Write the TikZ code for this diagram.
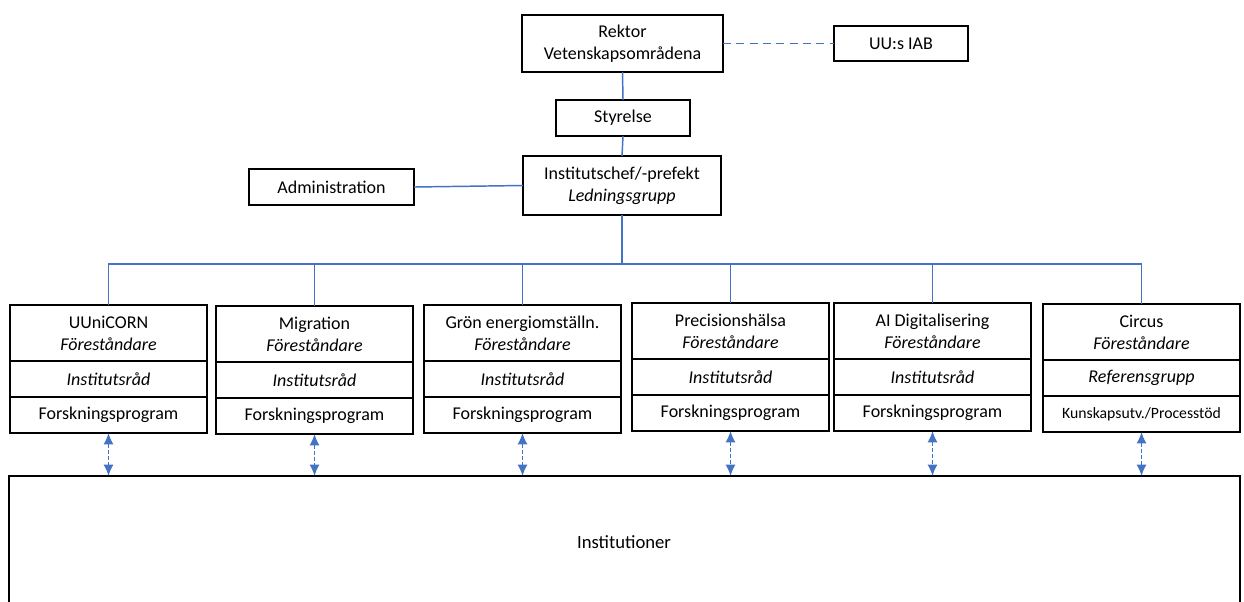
\documentclass[tikz,border=0pt]{standalone}
\usepackage{fontspec}
\setmainfont{Carlito}
\usetikzlibrary{arrows.meta}
\definecolor{lineblue}{RGB}{68,114,196}
\tikzset{
  box/.style={draw=black, line width=1.1pt, inner sep=0pt, outer sep=0pt, align=center, font=\fontsize{13.5}{16.5}\selectfont},
  conn/.style={draw=lineblue, line width=1.1pt},
  dconn/.style={draw=lineblue, line width=1.3pt, dash pattern=on 6pt off 4pt},
  link/.style={draw=lineblue, line width=1.1pt, dash pattern=on 3pt off 1.5pt, {Latex[length=8.5pt,width=7.5pt]}-{Latex[length=8.5pt,width=7.5pt]}},
  tophead/.style={box, minimum width=147.75pt, minimum height=42pt, anchor=north},
  midrow/.style={box, minimum width=147.75pt, minimum height=27pt, anchor=north},
}
\newcommand\orgcol[6]{%
  \node[tophead] (t#1) at (#2,#3) {#4\\\textit{Föreståndare}};
  \node[midrow] (m#1) at (t#1.south) {#5};
  \node[midrow] (b#1) at (m#1.south) {#6};
}
\begin{document}
\begin{tikzpicture}[x=0.75pt,y=-0.75pt]
\useasboundingbox (0,0) rectangle (1244,601);
\clip (0,0) rectangle (1244,601);
\fill[white] (0,0) rectangle (1244,601);

\node[box, minimum width=150.75pt, minimum height=42.75pt] (rek) at (622.5,43.5) {Rektor\\Vetenskapsområdena};
\node[box, minimum width=100.5pt, minimum height=26.25pt] (iab) at (901,43.5) {UU:s IAB};
\node[box, minimum width=100.5pt, minimum height=27pt] (sty) at (623,118) {Styrelse};
\node[box, minimum width=148.5pt, minimum height=44.25pt] (pref) at (622,185.5) {Institutschef/-prefekt\\\textit{Ledningsgrupp}};
\node[box, minimum width=123.75pt, minimum height=27pt] (adm) at (331.5,187) {Administration};

\draw[dconn] (rek.east) -- (iab.west);
\draw[conn] (rek.south) -- (sty.north);
\draw[conn] (sty.south) -- (pref.north);
\draw[conn] (adm.east) -- (pref.west);

\orgcol{1}{108.5}{305}{UUniCORN}{\textit{Institutsråd}}{Forskningsprogram}
\orgcol{2}{314.5}{306}{Migration}{\textit{Institutsråd}}{Forskningsprogram}
\orgcol{3}{522.5}{305}{Grön energiomställn.}{\textit{Institutsråd}}{Forskningsprogram}
\orgcol{4}{730.5}{303}{Precisionshälsa}{\textit{Institutsråd}}{Forskningsprogram}
\orgcol{5}{932.5}{303}{AI Digitalisering}{\textit{Institutsråd}}{Forskningsprogram}
\orgcol{6}{1141.5}{304}{Circus}{\textit{Referensgrupp}}{{\fontsize{11.8}{14}\selectfont Kunskapsutv./Processtöd}}

\coordinate (bus) at (622,264);
\draw[conn] (pref.south) -- (bus);
\draw[conn] (t1.north) |- (bus) -| (t6.north);
\foreach \i in {2,3,4,5} {\draw[conn] (t\i.north) -- (t\i.north |- bus);}

\node[box, minimum width=923.25pt, minimum height=120pt, anchor=north west] (inst) at (9,476) {};
\node[font=\fontsize{14}{16}\selectfont] (instlbl) at (624,542) {Institutioner};

\foreach \i in {1,...,6} {\draw[link] (b\i.south) -- (b\i.south |- inst.north);}
\end{tikzpicture}
\end{document}
